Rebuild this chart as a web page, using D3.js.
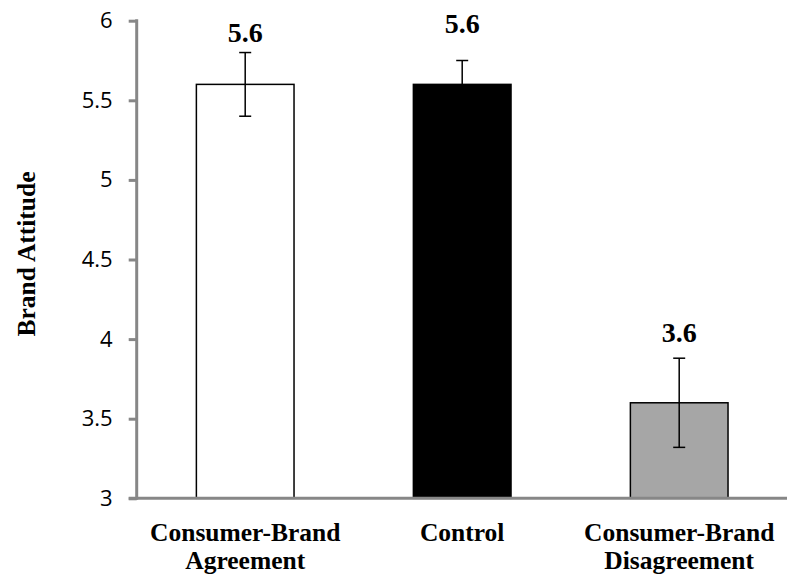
<!DOCTYPE html>
<html><head><meta charset="utf-8">
<script src="https://cdn.jsdelivr.net/npm/d3@7"></script>
<style>body{margin:0;background:#fff}svg{display:block}</style>
</head><body>
<svg id="c" width="787" height="581"></svg>
<script>
const categories = [["Consumer-Brand","Agreement"],["Control"],["Consumer-Brand","Disagreement"]];
const means = [5.6, 5.6, 3.6];
const errors = [0.2, 0.15, 0.28];
const valueLabels = ["5.6","5.6","3.6"];
const yTicks = [3, 3.5, 4, 4.5, 5, 5.5, 6];
const fills = ["#ffffff", "#000000", "#a6a6a6"];
const labelDy = [-11, -28, -16];

const svg = d3.select("#c");
const mLeft = 136.7, mRight = 787.7, mTop = 20.7, mBottom = 498.3;
const x = d3.scaleBand().domain(d3.range(categories.length)).range([mLeft, mRight]).paddingInner(0.55).paddingOuter(0.275);
const y = d3.scaleLinear().domain([3, 6]).range([mBottom, mTop]);

// bars
svg.selectAll("rect.bar").data(means).join("rect")
  .attr("x", (d,i)=>x(i)).attr("width", x.bandwidth())
  .attr("y", d=>y(d)).attr("height", d=>y(3)-y(d))
  .attr("fill", (d,i)=>fills[i]).attr("stroke", "#000").attr("stroke-width", 1.5);

// error bars
const cx = i => x(i) + x.bandwidth()/2;
const eg = svg.append("g").attr("stroke","#000").attr("stroke-width",1.5);
means.forEach((m,i)=>{
  const c = cx(i), t = y(m+errors[i]), b = y(m-errors[i]);
  eg.append("line").attr("x1",c).attr("x2",c).attr("y1",t).attr("y2",b);
  eg.append("line").attr("x1",c-6).attr("x2",c+6).attr("y1",t).attr("y2",t);
  eg.append("line").attr("x1",c-6).attr("x2",c+6).attr("y1",b).attr("y2",b);
});

// value labels
svg.selectAll("text.val").data(means).join("text")
  .attr("x",(d,i)=>cx(i)).attr("y",(d,i)=>y(d+errors[i])+labelDy[i])
  .attr("text-anchor","middle").attr("font-family","Liberation Serif, Times New Roman, serif")
  .attr("font-weight","bold").attr("font-size",28).text((d,i)=>valueLabels[i]);

// y axis
const yAxis = d3.axisLeft(y).tickValues(yTicks).tickSize(8).tickPadding(16).tickFormat(d3.format("~g"));
const ga = svg.append("g").attr("transform",`translate(${mLeft},0)`).call(yAxis);
ga.select(".domain").remove();
ga.selectAll(".tick line").attr("stroke","#878787").attr("stroke-width",3);
ga.selectAll(".tick text").attr("font-family","Open Sans, sans-serif").attr("font-size",22).attr("fill","#000");
svg.append("line").attr("x1",mLeft).attr("x2",mLeft).attr("y1",mTop-1.5).attr("y2",mBottom+1.5)
  .attr("stroke","#878787").attr("stroke-width",3);

// x axis
svg.append("line").attr("x1",mLeft-8).attr("x2",mRight).attr("y1",mBottom).attr("y2",mBottom)
  .attr("stroke","#878787").attr("stroke-width",3);

// x labels
categories.forEach((lines,i)=>{
  const t = svg.append("text").attr("text-anchor","middle")
    .attr("font-family","Liberation Serif, Times New Roman, serif").attr("font-weight","bold").attr("font-size",25.5);
  lines.forEach((s,k)=>t.append("tspan").attr("x",cx(i)).attr("y",541+k*28).text(s));
});

// y title
svg.append("text").attr("transform","translate(35,254) rotate(-90)").attr("text-anchor","middle")
  .attr("font-family","Liberation Serif, Times New Roman, serif").attr("font-weight","bold").attr("font-size",25.5)
  .text("Brand Attitude");
</script>
</body></html>
